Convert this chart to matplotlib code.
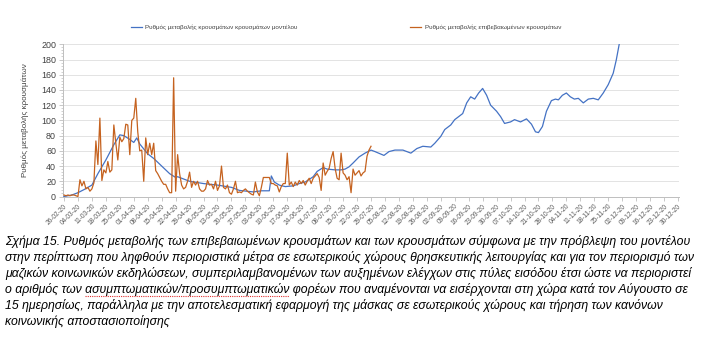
import matplotlib
matplotlib.use("Agg")
import matplotlib.pyplot as plt
from matplotlib.ticker import MultipleLocator
from matplotlib.lines import Line2D

# ---------------- data ----------------
tick_labels = ["26-02-20", "04-03-20", "11-03-20", "18-03-20", "25-03-20", "01-04-20", "08-04-20",
               "15-04-20", "22-04-20", "29-04-20", "06-05-20", "13-05-20", "20-05-20", "27-05-20",
               "03-06-20", "10-06-20", "17-06-20", "24-06-20", "01-07-20", "08-07-20", "15-07-20",
               "22-07-20", "29-07-20", "05-08-20", "12-08-20", "19-08-20", "26-08-20", "02-09-20",
               "09-09-20", "16-09-20", "23-09-20", "30-09-20", "07-10-20", "14-10-20", "21-10-20",
               "28-10-20", "04-11-20", "11-11-20", "18-11-20", "25-11-20", "02-12-20", "09-12-20",
               "16-12-20", "23-12-20", "30-12-20"]

# confirmed cases change rate (daily, from 26-02-20)
confirmed = [2, 1, 2, 1, 2, 2, 1, 0, 22, 14,
             20, 10, 12, 7, 10, 18, 73, 42, 103, 21,
             35, 31, 46, 32, 35, 94, 70, 48, 78, 72,
             76, 95, 94, 55, 100, 103, 129, 85, 60, 61,
             20, 77, 55, 70, 55, 70, 34, 30, 25, 20,
             16, 16, 10, 5, 5, 156, 7, 55, 30, 15,
             10, 12, 20, 32, 12, 20, 15, 20, 10, 7,
             7, 10, 21, 15, 16, 10, 20, 8, 14, 40,
             12, 10, 15, 5, 3, 10, 20, 5, 6, 5,
             8, 10, 7, 5, 3, 2, 19, 6, 1, 12,
             25, 25, 25, 25, 17, 17, 15, 14, 6, 13,
             17, 17, 57, 15, 19, 13, 19, 15, 21, 17,
             21, 15, 20, 24, 17, 24, 27, 30, 25, 8,
             44, 28, 33, 37, 50, 59, 37, 24, 22, 57,
             31, 28, 22, 26, 5, 36, 28, 31, 34, 27,
             31, 33, 53, 61, 66]

# model change rate (day offset from 26-02-20, value)
model_days = [0, 4, 7, 10, 14, 17, 21, 25, 28, 30, 33, 35, 36.5, 38, 42, 45, 49, 53, 56, 57,
              60, 63, 70, 77, 84, 88, 95, 99, 103, 104, 105.5, 108, 111, 115, 118, 121, 125, 127,
              130, 132, 136, 139, 141, 143, 145, 148, 151, 154, 156, 160.5, 163, 166, 170, 174,
              177, 180, 184, 186, 189, 191, 194, 196, 200, 202, 204, 206, 208, 210, 212, 214,
              217, 219, 221, 224, 226, 229, 232, 234.5, 236.5, 238, 240, 242, 244.5, 246.5, 248,
              250, 252, 254, 256, 258, 260.5, 263, 265.5, 268, 270.5, 273, 275.5, 277, 278.5]
model_vals = [0, 2, 5, 9, 15, 30, 48, 68, 81, 80, 75, 71, 77, 69, 56, 50, 40, 30, 25, 26,
              23, 20, 17, 15, 12, 8, 6, 7.5, 7.5, 27, 19, 15, 13, 14, 17, 19, 26, 33,
              38, 36, 35, 35, 36, 39, 44, 52, 57, 61, 59, 54, 59, 61, 61, 57,
              63, 66, 65, 70, 79, 88, 94, 101, 109, 123, 131, 128, 136, 142, 133, 120,
              112, 105, 96, 98, 101, 98, 102, 95, 85, 84, 92, 112, 126, 128, 127,
              133, 136, 131, 128, 129, 123, 128, 129, 127, 136, 147, 162, 179, 200]

model_label = "Ρυθμός μεταβολής κρουσμάτων κρουσμάτων μοντέλου"
conf_label = "Ρυθμός μεταβολής επιβεβαιωμένων κρουσμάτων"
ylabel = "Ρυθμός μεταβολής κρουσμάτων"
caption = ["Σχήμα 15. Ρυθμός μεταβολής των επιβεβαιωμένων κρουσμάτων και των κρουσμάτων σύμφωνα με την πρόβλεψη του μοντέλου",
           "στην περίπτωση που ληφθούν περιοριστικά μέτρα σε εσωτερικούς χώρους θρησκευτικής λειτουργίας και για τον περιορισμό των",
           "μαζικών κοινωνικών εκδηλώσεων, συμπεριλαμβανομένων των αυξημένων ελέγχων στις πύλες εισόδου έτσι ώστε να περιοριστεί",
           "ο αριθμός των ασυμπτωματικών/προσυμπτωματικών φορέων που αναμένονται να εισέρχονται στη χώρα κατά τον Αύγουστο σε",
           "15 ημερησίως, παράλληλα με την αποτελεσματική εφαρμογή της μάσκας σε εσωτερικούς χώρους και τήρηση των κανόνων",
           "κοινωνικής αποστασιοποίησης"]
flagged_prefix = "ο αριθμός των "
flagged_word = "ασυμπτωματικών/προσυμπτωματικών"

# ---------------- figure ----------------
plt.rcParams['font.family'] = ['Liberation Sans', 'DejaVu Sans']
W, H = 706, 358
fig = plt.figure(figsize=(W / 100, H / 100), dpi=100)
L, R, T, B = 63, 679, 44.3, 196.5
ax = fig.add_axes([L / W, 1 - B / H, (R - L) / W, (B - T) / H])

blue = '#4472C4'
orange = '#C5621F'
ax.plot(model_days, model_vals, color=blue, lw=0.9, label=model_label, zorder=3)
ax.plot(range(len(confirmed)), confirmed, color=orange, lw=0.9, label=conf_label, zorder=4)

ax.set_xlim(-0.5, 308.5)
ax.set_ylim(0, 200)
ax.yaxis.set_major_locator(MultipleLocator(20))
ax.yaxis.set_minor_locator(MultipleLocator(4))
ax.grid(axis='y', color='#E3E3E3', lw=0.7, zorder=0)
ax.set_xticks([7 * i for i in range(len(tick_labels))])
ax.set_xticklabels(tick_labels, rotation=45, ha='right', rotation_mode='anchor',
                   fontsize=4.7, color='#595959')
for s in ['top', 'right']:
    ax.spines[s].set_visible(False)
ax.spines['left'].set_color('#BFBFBF')
ax.spines['bottom'].set_color('#BFBFBF')
ax.spines['left'].set_linewidth(0.7)
ax.spines['bottom'].set_linewidth(0.7)
ax.tick_params(axis='x', length=3, width=0.6, color='#BFBFBF', pad=1.5)
ax.tick_params(axis='y', which='major', length=3, width=0.6, color='#BFBFBF',
               labelsize=6.4, labelcolor='#404040', pad=2)
ax.tick_params(axis='y', which='minor', length=1.8, width=0.5, color='#BFBFBF')
ax.set_ylabel(ylabel, fontsize=5.8, color='#404040', labelpad=9)

fig.legend(loc='center', bbox_to_anchor=(346 / W, 1 - 27.5 / H), ncol=2, frameon=False,
           fontsize=4.5, handlelength=1.8, columnspacing=18, handletextpad=0.5,
           labelcolor='#404040')

texts = []
for i, line in enumerate(caption):
    t = fig.text(5 / W, 1 - (242 + 16 * i) / H, line, fontsize=8.8, style='italic',
                 color='#000000', va='center', ha='left')
    texts.append(t)

# red spell-check underline under the flagged word on line 4
fig.canvas.draw()
r = fig.canvas.get_renderer()
probe = fig.text(5 / W, 0, flagged_prefix + flagged_word, fontsize=8.8, style='italic')
probe2 = fig.text(5 / W, 0, flagged_prefix.rstrip(), fontsize=8.8, style='italic')
w_full = probe.get_window_extent(r).width
w_pre = probe2.get_window_extent(r).width
probe.remove()
probe2.remove()
x0 = 5 + w_pre + 3
x1 = 5 + w_full
yline = 1 - (242 + 16 * 3 + 6) / H
fig.add_artist(Line2D([x0 / W, x1 / W], [yline, yline], color='#E03030', lw=0.8,
                      linestyle=(0, (1, 1))))

fig.savefig('out.png', dpi=100)
